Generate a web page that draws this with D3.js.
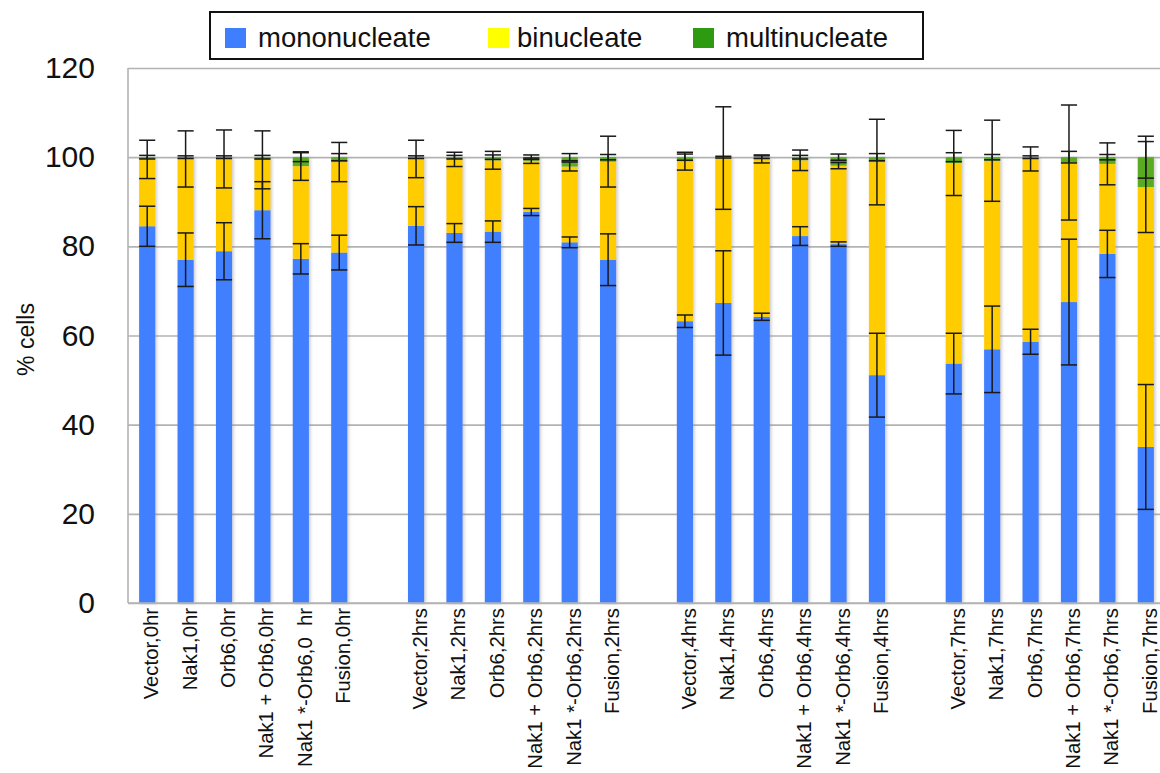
<!DOCTYPE html>
<html>
<head>
<meta charset="utf-8">
<script src="https://cdn.jsdelivr.net/npm/d3@7"></script>
<style>
  html, body { margin: 0; padding: 0; background: #fff; }
  svg { display: block; font-family: "Liberation Sans", Arial, Helvetica, sans-serif; }
</style>
</head>
<body>
<svg id="chart" width="1160" height="773"></svg>
<script>
// Time points and the six constructs measured at each one
const timeGroups = ["0hr", "2hrs", "4hrs", "7hrs"];
const categories = [
  "Vector,0hr", "Nak1,0hr", "Orb6,0hr", "Nak1 + Orb6,0hr", "Nak1 *-Orb6,0  hr", "Fusion,0hr",
  "Vector,2hrs", "Nak1,2hrs", "Orb6,2hrs", "Nak1 + Orb6,2hrs", "Nak1 *-Orb6,2hrs", "Fusion,2hrs",
  "Vector,4hrs", "Nak1,4hrs", "Orb6,4hrs", "Nak1 + Orb6,4hrs", "Nak1 *-Orb6,4hrs", "Fusion,4hrs",
  "Vector,7hrs", "Nak1,7hrs", "Orb6,7hrs", "Nak1 + Orb6,7hrs", "Nak1 *-Orb6,7hrs", "Fusion,7hrs"
];

// Percentage of cells in each class
const mononucleate = [84.5, 77.0, 78.9, 88.1, 77.2, 78.6, 84.6, 83.0, 83.3, 87.7, 80.9, 77.0,
                      63.2, 67.3, 64.2, 82.3, 80.5, 51.1, 53.7, 56.9, 58.6, 67.5, 78.3, 35.0];
const binucleate   = [15.0, 22.6, 20.7, 11.3, 20.8, 20.3, 15.0, 16.5, 16.0, 11.5, 17.0, 22.0,
                      35.9, 32.5, 35.4, 17.0, 17.6, 47.8, 45.0, 42.3, 41.0, 31.3, 20.2, 58.3];
const multinucleate = [0.5, 0.4, 0.4, 0.6, 2.0, 1.1, 0.4, 0.5, 0.7, 0.8, 2.1, 1.0,
                       0.9, 0.2, 0.4, 0.7, 1.9, 1.1, 1.3, 0.8, 0.4, 1.2, 1.5, 6.7];

// Standard deviations for each class
const mononucleateErr = [4.5, 6.0, 6.4, 6.4, 3.4, 3.9, 4.3, 2.1, 2.4, 0.8, 1.2, 5.8,
                         1.4, 11.7, 0.8, 2.1, 0.5, 9.4, 6.8, 9.7, 2.8, 14.1, 5.3, 14.0];
const binucleateErr    = [4.3, 6.3, 6.5, 6.5, 3.2, 4.4, 4.2, 1.6, 2.0, 0.6, 1.0, 5.7,
                          2.0, 11.5, 0.9, 2.3, 0.7, 9.6, 7.3, 9.1, 2.7, 12.9, 4.7, 10.2];
const multinucleateErr = [0.4, 0.3, 0.3, 0.4, 1.0, 0.8, 0.3, 0.4, 0.5, 0.5, 0.8, 0.6,
                          0.7, 0.2, 0.3, 0.4, 0.7, 0.8, 1.0, 0.6, 0.3, 1.3, 0.6, 4.7];

const seriesNames = ["mononucleate", "binucleate", "multinucleate"];
const yTicks = [0, 20, 40, 60, 80, 100, 120];

const barColors = ["#3f7ffd", "#ffcc00", "#5aab22"];
const legendColors = ["#3f7ffd", "#ffff00", "#2d9a12"];

const svg = d3.select("#chart");
const margin = { left: 128, right: -5, top: 68, bottom: 170 };
const width = 1160, height = 773;
const plotBottom = height - margin.bottom; // 603

// Band domain: categories with an empty slot between time points
const perGroup = categories.length / timeGroups.length;
const slots = [];
timeGroups.forEach((g, gi) => {
  categories.slice(gi * perGroup, (gi + 1) * perGroup).forEach(c => slots.push(c));
  if (gi < timeGroups.length - 1) slots.push("gap-" + gi);
});

const x = d3.scaleBand()
  .domain(slots)
  .range([margin.left, width - margin.right])
  .paddingInner(0.58)
  .paddingOuter(0.29);

const y = d3.scaleLinear().domain([0, 120]).range([plotBottom, margin.top]);

// Gridlines
const grid = svg.append("g")
  .attr("transform", `translate(${margin.left},0)`)
  .call(d3.axisLeft(y).tickValues(yTicks).tickSize(-(width - margin.left)).tickFormat(""));
grid.select(".domain").remove();
grid.selectAll(".tick line").attr("stroke", "#b3b3b3").attr("stroke-width", 1.6);

// Y axis line and labels
svg.append("line")
  .attr("x1", margin.left).attr("x2", margin.left)
  .attr("y1", y(120)).attr("y2", plotBottom)
  .attr("stroke", "#b3b3b3").attr("stroke-width", 1.6);

const yAxis = svg.append("g")
  .attr("transform", `translate(${margin.left},0)`)
  .call(d3.axisLeft(y).tickValues(yTicks).tickSize(0).tickPadding(33));
yAxis.select(".domain").remove();
yAxis.selectAll("text")
  .attr("font-size", 30)
  .attr("fill", "#111")
  .attr("font-family", "'Liberation Sans', Arial, sans-serif");

svg.append("text")
  .attr("transform", `translate(34,${(y(120) + plotBottom) / 2 + 4}) rotate(-90)`)
  .attr("text-anchor", "middle")
  .attr("font-size", 23)
  .attr("fill", "#111")
  .text("% cells");

// Soft shadow around the bars
const defs = svg.append("defs");
const f = defs.append("filter").attr("id", "soft").attr("x", "-30%").attr("y", "-5%")
  .attr("width", "160%").attr("height", "110%");
f.append("feDropShadow").attr("dx", 1.5).attr("dy", 0.5).attr("stdDeviation", 1.5)
  .attr("flood-color", "#888").attr("flood-opacity", 0.45);

// Stack the three classes
const rows = categories.map((c, i) => ({
  cat: c,
  mononucleate: mononucleate[i],
  binucleate: binucleate[i],
  multinucleate: multinucleate[i]
}));
const errs = [mononucleateErr, binucleateErr, multinucleateErr];
const stacked = d3.stack().keys(seriesNames)(rows);

const barsG = svg.append("g").attr("filter", "url(#soft)");
stacked.forEach((layer, li) => {
  barsG.append("g")
    .attr("fill", barColors[li])
    .selectAll("rect")
    .data(layer)
    .join("rect")
    .attr("x", d => x(d.data.cat))
    .attr("width", x.bandwidth())
    .attr("y", d => y(d[1]))
    .attr("height", d => y(d[0]) - y(d[1]));
});

// Error bars centred on the cumulative top of each class
const errG = svg.append("g").attr("stroke", "#1a1a1a").attr("stroke-width", 1.5).attr("fill", "none");
const capHalf = x.bandwidth() / 2;
stacked.forEach((layer, li) => {
  layer.forEach((d, i) => {
    const e = errs[li][i];
    const cx = x(d.data.cat) + x.bandwidth() / 2;
    const top = y(d[1] + e), bot = y(d[1] - e);
    errG.append("line").attr("x1", cx).attr("x2", cx).attr("y1", top).attr("y2", bot);
    errG.append("line").attr("x1", cx - capHalf).attr("x2", cx + capHalf).attr("y1", top).attr("y2", top);
    errG.append("line").attr("x1", cx - capHalf).attr("x2", cx + capHalf).attr("y1", bot).attr("y2", bot);
  });
});

// X axis baseline
svg.append("line")
  .attr("x1", margin.left).attr("x2", width)
  .attr("y1", plotBottom).attr("y2", plotBottom)
  .attr("stroke", "#b3b3b3").attr("stroke-width", 1.6);

// Category labels, rotated
svg.append("g")
  .selectAll("text")
  .data(categories)
  .join("text")
  .attr("transform", d => `translate(${x(d) + x.bandwidth() / 2 + 11},${plotBottom + 5}) rotate(-90)`)
  .attr("text-anchor", "end")
  .attr("font-size", 20.3)
  .attr("fill", "#111")
  .style("white-space", "pre")
  .text(d => d);

// Legend
const legend = svg.append("g");
legend.append("rect")
  .attr("x", 210).attr("y", 12).attr("width", 713).attr("height", 47)
  .attr("fill", "#fff").attr("stroke", "#111").attr("stroke-width", 2);
const legendSwatchX = [225, 488, 693];
const legendTextX = [258, 517, 726];
seriesNames.forEach((s, i) => {
  legend.append("rect")
    .attr("x", legendSwatchX[i]).attr("y", 28).attr("width", 21).attr("height", 20)
    .attr("fill", legendColors[i]);
  legend.append("text")
    .attr("x", legendTextX[i])
    .attr("y", 47)
    .attr("font-size", 27.5)
    .attr("fill", "#111")
    .text(s);
});
</script>
</body>
</html>
